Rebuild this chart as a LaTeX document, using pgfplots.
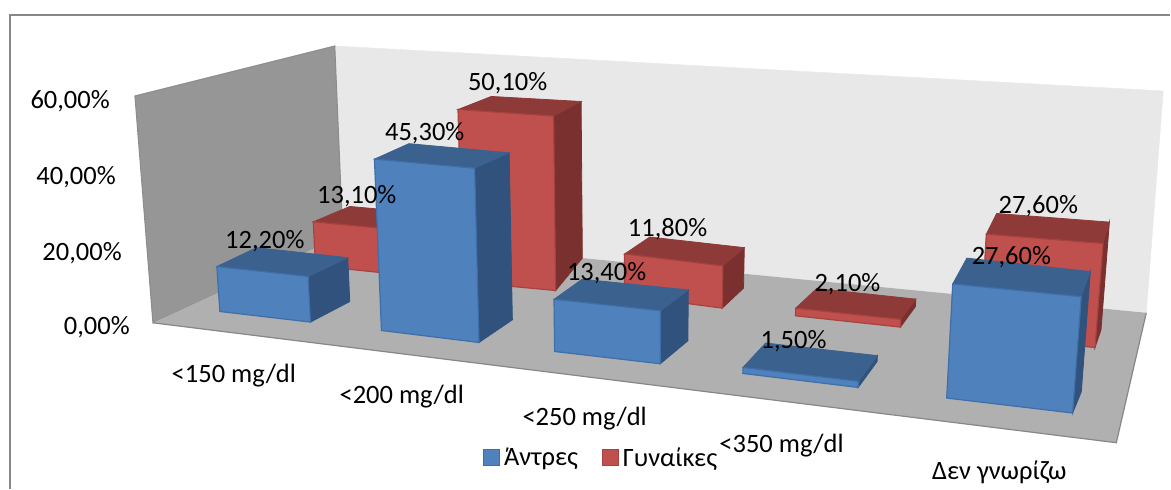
\documentclass[border=0pt]{standalone}
\usepackage{pgfplots}
\pgfplotsset{compat=1.18}
\usepackage{fontspec}
\setmainfont{Carlito}

\definecolor{bluefront}{HTML}{4F81BD}
\definecolor{bluetop}{HTML}{3B618F}
\definecolor{blueside}{HTML}{30527C}
\definecolor{blueedge}{HTML}{3E6FA8}
\definecolor{redfront}{HTML}{C0504D}
\definecolor{redtop}{HTML}{8E3A38}
\definecolor{redside}{HTML}{7A302E}
\definecolor{rededge}{HTML}{A8423F}

% Projects a floor point (x,y) up to the height of a percentage value.
% \outx and \outy receive the projected point.
\newcommand{\lift}[3]{%
  \pgfmathsetmacro{\liftpx}{#3*(1.62-0.00018*#1+0.00676*#2)}%
  \pgfmathsetmacro{\outx}{#1+(#1-630)/(6400-#2)*\liftpx}%
  \pgfmathsetmacro{\outy}{#2-\liftpx}%
}
\def\splitxy#1,#2;{\def\px{#1}\def\py{#2}}
% One perspective bar: [depth gain of the rear edge]{series}{value}
% {front left}{front right}{back right}{back left}, floor corners as x,y pairs.
\newcommand{\persbar}[7][1]{%
  \splitxy#4;\let\ax\px\let\ay\py
  \splitxy#5;\let\bx\px\let\by\py
  \splitxy#6;\let\cx\px\let\cy\py
  \splitxy#7;\let\dx\px\let\dy\py
  \lift{\ax}{\ay}{#3}\let\tax\outx\let\tay\outy
  \lift{\bx}{\by}{#3}\let\tbx\outx\let\tby\outy
  \lift{\cx}{\cy}{#3*#1}\let\tcx\outx\let\tcy\outy
  \lift{\dx}{\dy}{#3*#1}\let\tdx\outx\let\tdy\outy
  \edef\drawfaces{%
    \noexpand\addplot[forget plot,fill=#2side,draw=#2side,line width=0.8pt]
      coordinates {(\bx,\by) (\cx,\cy) (\tcx,\tcy) (\tbx,\tby)} --cycle;
    \noexpand\addplot[forget plot,fill=#2top,draw=#2top,line width=0.8pt]
      coordinates {(\tax,\tay) (\tbx,\tby) (\tcx,\tcy) (\tdx,\tdy)} --cycle;
    \noexpand\addplot[forget plot,fill=#2front,draw=#2edge,line width=1.2pt]
      coordinates {(\ax,\ay) (\bx,\by) (\tbx,\tby) (\tax,\tay)} --cycle;
  }%
  \drawfaces
}

\begin{document}
\begin{tikzpicture}
\begin{axis}[
  scale only axis,
  width=1171pt,
  height=489pt,
  xmin=0, xmax=1171,
  ymin=0, ymax=489,
  y dir=reverse,
  hide axis,
  clip=false,
  legend columns=2,
  legend style={
    at={(axis cs:601.5,458)}, anchor=center, draw=none, fill=none,
    font=\fontsize{26.5}{26.5}\selectfont,
    /tikz/every odd column/.style={column sep=2pt},
    /tikz/every even column/.style={column sep=22pt},
    inner sep=0pt,
  },
  legend image code/.code={
    \draw[#1,line width=1pt] (0pt,-8pt) rectangle (16pt,8pt);
  },
]
% chart frame
\addplot[forget plot,draw=black!47,line width=1.5pt] coordinates {(10,489) (10,15) (1171,15)};

% walls and floor
\addplot[forget plot,fill=black!9,draw=black!9] coordinates {(335,46) (1164,91) (1147,313) (343,235)} --cycle;
\addplot[forget plot,fill=black!41,draw=black!45,line width=1pt] coordinates {(135,96) (335,46) (343,235) (153,323)} --cycle;
\addplot[forget plot,fill=black!31,draw=none] coordinates {(153,323) (343,235) (1147,313) (1117,443)} --cycle;
\addplot[forget plot,draw=black!47,line width=1.2pt] coordinates {(153,323) (1117,443) (1147,313)};

% bars, from the back of the floor to the front
\persbar{red}{13.1}{315.7,266}{408,275.5}{444,258}{352,249}
\persbar{blue}{12.2}{220,311.7}{310.7,322.3}{350,301.7}{259.3,291}
\persbar[0.96]{red}{50.1}{463,282}{556,290.7}{582.7,258.3}{495,252}
\persbar{blue}{45.3}{381.7,330.7}{479.3,342.7}{512.7,320}{415,308}
\persbar{red}{11.8}{625,295.5}{722.7,308.3}{744,288.3}{650,277}
\persbar{blue}{13.4}{555,351.7}{660.7,364}{688.3,341}{583,329.5}
\persbar{red}{2.1}{796,316}{901,327.3}{916,306.7}{817,296}
\persbar{blue}{1.5}{743.3,373.7}{858.7,387.7}{877.7,361.7}{766,349}
\persbar[1.07]{red}{27.6}{981,337}{1095.7,347.7}{1101.7,330}{991,320}
\persbar[1.07]{blue}{27.6}{947.3,398.3}{1073.3,413.3}{1082,392}{961,376}

\addlegendimage{fill=bluefront,draw=blueedge}
\addlegendentry{Άντρες}
\addlegendimage{fill=redfront,draw=rededge}
\addlegendentry{Γυναίκες}

% value axis
\begin{scope}[every node/.style={font=\fontsize{26.5}{26.5}\selectfont,inner sep=0pt}]
\node[anchor=east] at (axis cs:110,101) {60,00\%};
\node[anchor=east] at (axis cs:116,177) {40,00\%};
\node[anchor=east] at (axis cs:122,253) {20,00\%};
\node[anchor=east] at (axis cs:130,327) {0,00\%};
% data labels
\node at (axis cs:265,241) {12,20\%};
\node at (axis cs:357,196) {13,10\%};
\node at (axis cs:425,133) {45,30\%};
\node at (axis cs:508,83) {50,10\%};
\node at (axis cs:607,273) {13,40\%};
\node at (axis cs:668,229) {11,80\%};
\node at (axis cs:794,341) {1,50\%};
\node at (axis cs:848,284) {2,10\%};
\node at (axis cs:1012,257) {27,60\%};
\node at (axis cs:1039,206) {27,60\%};
% category labels
\node at (axis cs:234,376) {<150 mg/dl};
\node at (axis cs:402,397) {<200 mg/dl};
\node at (axis cs:585,419) {<250 mg/dl};
\node at (axis cs:782,446) {<350 mg/dl};
\node at (axis cs:1000,473) {Δεν γνωρίζω};
\end{scope}
\end{axis}
\useasboundingbox (0,0) rectangle (1171pt,489pt);
\end{tikzpicture}
\end{document}
